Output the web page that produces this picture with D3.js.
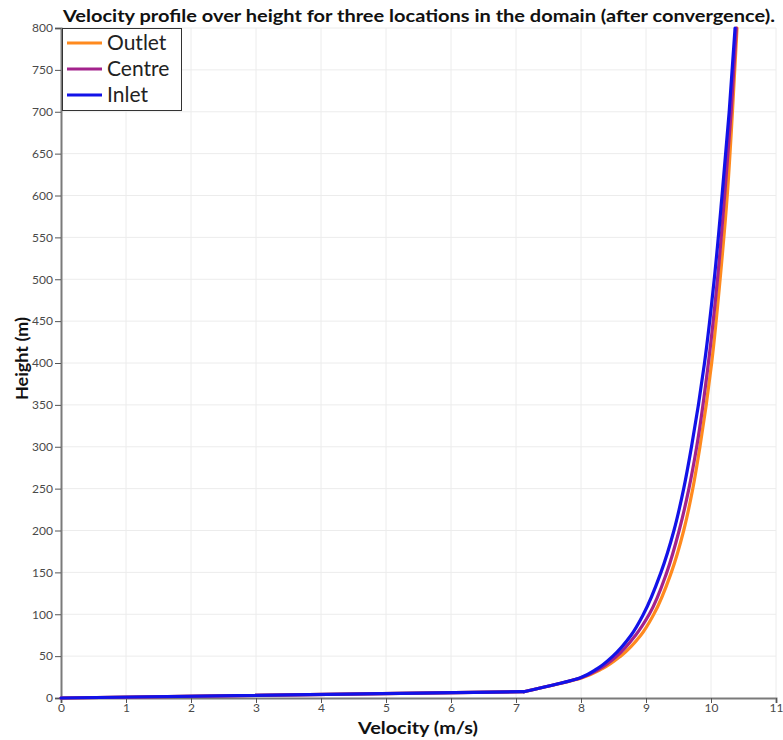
<!DOCTYPE html>
<html>
<head>
<meta charset="utf-8">
<script src="https://cdn.jsdelivr.net/npm/d3@7"></script>
<style>
  body { margin: 0; background: #fff; }
  svg { display: block; font-family: Lato, "DejaVu Sans", sans-serif; }
</style>
</head>
<body>
<div id="chart"></div>
<script>
'use strict';

// heights (m) at which the three profiles were read
var heights = [0, 7.5, 17, 24, 35, 50, 75, 100, 150, 200, 250, 300, 400, 500, 600, 700, 800];

// velocity (m/s) per location
var outlet = [0, 7.12, 7.66, 8.01, 8.33, 8.61, 8.92, 9.12, 9.39, 9.58, 9.72, 9.83, 10.01, 10.14, 10.25, 10.33, 10.40];
var centre = [0, 7.12, 7.65, 7.99, 8.29, 8.55, 8.84, 9.05, 9.32, 9.51, 9.66, 9.78, 9.96, 10.10, 10.21, 10.31, 10.39];
var inlet  = [0, 7.12, 7.65, 7.98, 8.25, 8.49, 8.77, 8.96, 9.23, 9.43, 9.58, 9.70, 9.90, 10.05, 10.17, 10.28, 10.37];

var seriesNames = ['Outlet', 'Centre', 'Inlet'];
var seriesColors = ['#ff8a1e', '#a3228c', '#1212e8'];
var xTicks = d3.range(0, 12);
var yTicks = d3.range(0, 801, 50);

var width = 783;
var height = 740;
var margin = {left: 61, right: 7, top: 28, bottom: 42};

var svg = d3.select('#chart').append('svg')
    .attr('width', width)
    .attr('height', height);

var x = d3.scaleLinear().domain([0, 11]).range([margin.left, width - margin.right]);
var y = d3.scaleLinear().domain([0, 800]).range([height - margin.bottom, margin.top]);

// grid
svg.append('g').selectAll('line')
    .data(xTicks.slice(1))
    .enter().append('line')
    .attr('x1', function(d) { return x(d); })
    .attr('x2', function(d) { return x(d); })
    .attr('y1', y(0))
    .attr('y2', y(800))
    .style('stroke', '#ececec')
    .style('stroke-width', 1);

svg.append('g').selectAll('line')
    .data(yTicks.slice(1))
    .enter().append('line')
    .attr('x1', x(0))
    .attr('x2', x(11))
    .attr('y1', function(d) { return y(d); })
    .attr('y2', function(d) { return y(d); })
    .style('stroke', '#ececec')
    .style('stroke-width', 1);

// axes
var xAxis = svg.append('g')
    .attr('transform', 'translate(0,' + y(0) + ')')
    .call(d3.axisBottom(x).tickValues(xTicks).tickSize(5).tickPadding(0).tickFormat(d3.format('d')));

var yAxis = svg.append('g')
    .attr('transform', 'translate(' + x(0) + ',0)')
    .call(d3.axisLeft(y).tickValues(yTicks).tickSize(6).tickPadding(2).tickFormat(d3.format('d')));

[xAxis, yAxis].forEach(function(ax) {
    ax.select('.domain').style('stroke', '#7a7a7a').style('stroke-width', 2);
    ax.selectAll('.tick line').style('stroke', '#555').style('stroke-width', 1);
    ax.selectAll('.tick text')
        .style('fill', '#4a4a4a')
        .style('font-size', '12px')
        .style('font-family', 'Lato, "DejaVu Sans", sans-serif');
});

// curves: straight near-wall segment, smooth profile above it
var straight = d3.line()
    .x(function(d) { return x(d[0]); })
    .y(function(d) { return y(d[1]); });

var smooth = d3.line()
    .x(function(d) { return x(d[0]); })
    .y(function(d) { return y(d[1]); })
    .curve(d3.curveMonotoneY);

[outlet, centre, inlet].forEach(function(vals, i) {
    var pts = vals.map(function(v, k) { return [v, heights[k]]; });
    var g = svg.append('g')
        .style('fill', 'none')
        .style('stroke', seriesColors[i])
        .style('stroke-width', 3.2)
        .style('stroke-linejoin', 'round')
        .style('stroke-linecap', 'round');
    g.append('path').attr('d', straight(pts.slice(0, 2)));
    g.append('path').attr('d', smooth(pts.slice(1)));
});

// legend
var legend = svg.append('g').attr('transform', 'translate(62,28)');
legend.append('rect')
    .attr('x', 0.5)
    .attr('y', 0.5)
    .attr('width', 119)
    .attr('height', 82)
    .style('fill', '#fff')
    .style('stroke', '#333')
    .style('stroke-width', 1);

seriesNames.forEach(function(name, i) {
    var ly = 15 + i * 26;
    legend.append('line')
        .attr('x1', 5)
        .attr('x2', 40)
        .attr('y1', ly)
        .attr('y2', ly)
        .style('stroke', seriesColors[i])
        .style('stroke-width', 3);
    legend.append('text')
        .attr('x', 45)
        .attr('y', ly + 7)
        .style('font-size', '21px')
        .style('fill', '#222')
        .text(name);
});

// title & labels
svg.append('text')
    .attr('x', 63)
    .attr('y', 22)
    .attr('textLength', 712)
    .attr('lengthAdjust', 'spacingAndGlyphs')
    .style('font-size', '17px')
    .style('font-weight', 'bold')
    .style('fill', '#111')
    .text('Velocity profile over height for three locations in the domain (after convergence).');

svg.append('text')
    .attr('x', 358)
    .attr('y', 734)
    .attr('textLength', 120)
    .attr('lengthAdjust', 'spacingAndGlyphs')
    .style('font-size', '17px')
    .style('font-weight', 'bold')
    .style('fill', '#111')
    .text('Velocity (m/s)');

svg.append('text')
    .attr('transform', 'translate(28,400) rotate(-90)')
    .attr('textLength', 83)
    .attr('lengthAdjust', 'spacingAndGlyphs')
    .style('font-size', '17px')
    .style('font-weight', 'bold')
    .style('fill', '#111')
    .text('Height (m)');
</script>
</body>
</html>
